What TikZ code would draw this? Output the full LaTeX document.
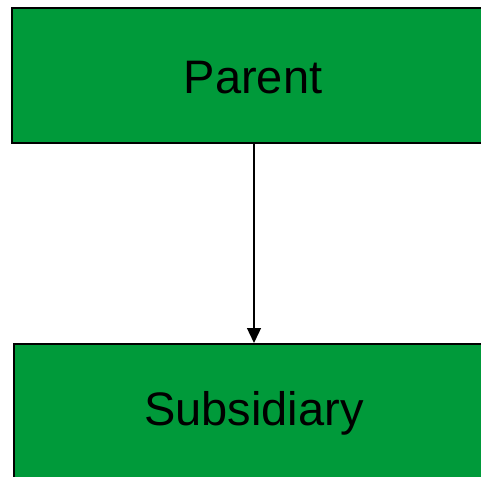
\documentclass[tikz,border=0pt]{standalone}
\usepackage{fontspec}
\setmainfont{Liberation Sans}
\usetikzlibrary{arrows.meta}
\definecolor{boxgreen}{RGB}{0,154,58}
\begin{document}
\begin{tikzpicture}[x=1pt,y=-1pt,
  orgbox/.style={draw=black, line width=2pt, fill=boxgreen,
    minimum height=135pt, inner sep=0pt},
  boxlabel/.style={inner sep=0pt, font=\fontsize{47}{56}\selectfont},
  link/.style={line width=1.3pt, -{Triangle[width=14pt,length=15pt]}}]
  \useasboundingbox (0,0) rectangle (481,476);
  \clip (0,0) rectangle (481,476);
  \node[orgbox, minimum width=484pt] (parent) at (254,75.5) {};
  \node[boxlabel] (parentlabel) at (253,78) {Parent};
  \node[orgbox, minimum width=480pt] (sub) at (254,411.5) {};
  \node[boxlabel] (sublabel) at (254,413) {Subsidiary};
  \draw[link] (parent.south) -- (sub.north);
\end{tikzpicture}
\end{document}
